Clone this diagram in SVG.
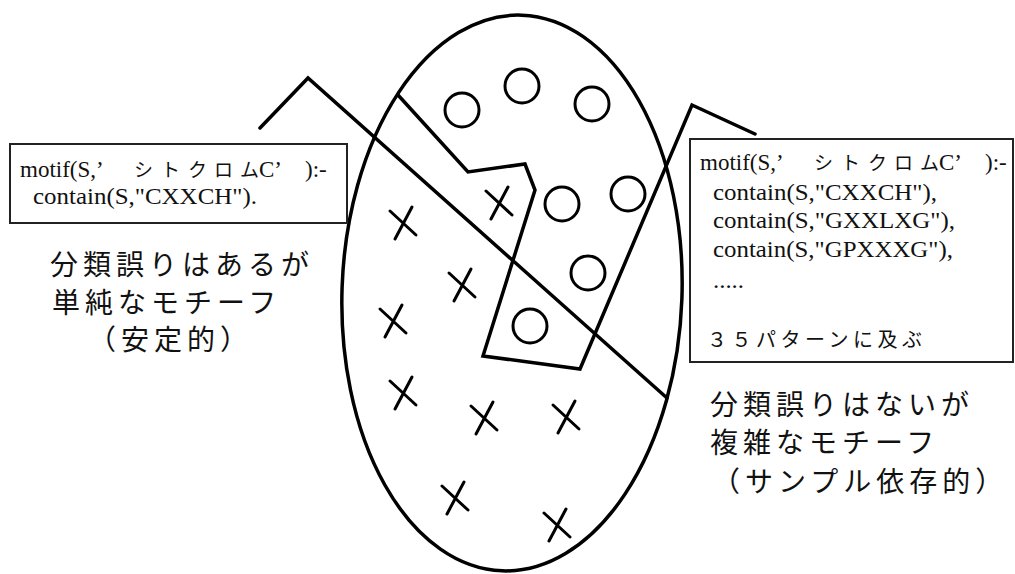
<svg xmlns="http://www.w3.org/2000/svg" width="1015" height="574" viewBox="0 0 1015 574">
<style>
.ln{fill:none;stroke:#000;stroke-width:3.5;stroke-linejoin:miter;stroke-linecap:round}
.o{fill:none;stroke:#000;stroke-width:3}
.x{fill:none;stroke:#000;stroke-width:3;stroke-linecap:round}
.box{fill:#fff;stroke:#222;stroke-width:2}
.code{font-family:"Liberation Serif","Noto Sans CJK JP",serif;font-size:23px;fill:#111}
.kana{font-family:"Noto Sans CJK JP",sans-serif;font-size:19px;fill:#111}
.cap{font-family:"Noto Sans CJK JP",sans-serif;font-size:28px;letter-spacing:5px;fill:#111}
.small{font-family:"Noto Sans CJK JP",sans-serif;font-size:20px;letter-spacing:4.5px;fill:#111}
</style>
<defs>
<path id="cross" class="x" d="M-13,-12 L13,12 M9,-16 L-8,16"/>
</defs>
<rect width="1015" height="574" fill="#fff"/>
<g id="population">
<ellipse cx="512" cy="293" rx="170" ry="278" class="ln" transform="rotate(2 512 293)"/>
</g>
<g id="connectors">
<polyline class="ln" points="260,128 308,78 667,398"/>
<polyline class="ln" points="398,95 468,172 525,164 535,190 483,356 580,369 692,105 755,134"/>
</g>
<g id="positives">
<circle class="o" cx="462" cy="110" r="17"/>
<circle class="o" cx="522" cy="86" r="17"/>
<circle class="o" cx="592" cy="104" r="17"/>
<circle class="o" cx="562" cy="204" r="17"/>
<circle class="o" cx="628" cy="194" r="17"/>
<circle class="o" cx="588" cy="273" r="17"/>
<circle class="o" cx="530" cy="326" r="17"/>
</g>
<g id="negatives">
<use href="#cross" x="499" y="203"/>
<use href="#cross" x="403" y="223"/>
<use href="#cross" x="462" y="285"/>
<use href="#cross" x="393" y="321"/>
<use href="#cross" x="403" y="393"/>
<use href="#cross" x="484" y="418"/>
<use href="#cross" x="566" y="417"/>
<use href="#cross" x="455" y="498"/>
<use href="#cross" x="557" y="525"/>
</g>
<g id="simple-rule">
<rect class="box" x="10" y="144" width="337" height="79"/>
<text class="code" y="177"><tspan x="20">motif(S,’</tspan><tspan class="kana" x="134 161 188 214 240">シトクロム</tspan><tspan x="259">C’</tspan><tspan x="305">):-</tspan></text>
<text class="code" x="33" y="204" textLength="224" lengthAdjust="spacingAndGlyphs">contain(S,"CXXCH").</text>
</g>
<g id="simple-caption">
<text class="cap" x="50" y="275">分類誤りはあるが</text>
<text class="cap" x="52" y="313">単純なモチーフ</text>
<text class="cap" x="88" y="350">（安定的）</text>
</g>
<g id="complex-rule">
<rect class="box" x="690" y="139" width="323" height="223"/>
<text class="code" y="170"><tspan x="700">motif(S,’</tspan><tspan class="kana" x="814 841 868 894 920">シトクロム</tspan><tspan x="939">C’</tspan><tspan x="985">):-</tspan></text>
<text class="code" x="713" y="200" textLength="224" lengthAdjust="spacingAndGlyphs">contain(S,"CXXCH"),</text>
<text class="code" x="713" y="228" textLength="242" lengthAdjust="spacingAndGlyphs">contain(S,"GXXLXG"),</text>
<text class="code" x="713" y="257" textLength="240" lengthAdjust="spacingAndGlyphs">contain(S,"GPXXXG"),</text>
<text class="code" x="713" y="288" textLength="31" lengthAdjust="spacingAndGlyphs">.....</text>
<text class="small" x="707" y="347">３５パターンに及ぶ</text>
</g>
<g id="complex-caption">
<text class="cap" x="710" y="415">分類誤りはないが</text>
<text class="cap" x="710" y="453">複雑なモチーフ</text>
<text class="cap" x="712" y="492">（サンプル依存的）</text>
</g>
</svg>
